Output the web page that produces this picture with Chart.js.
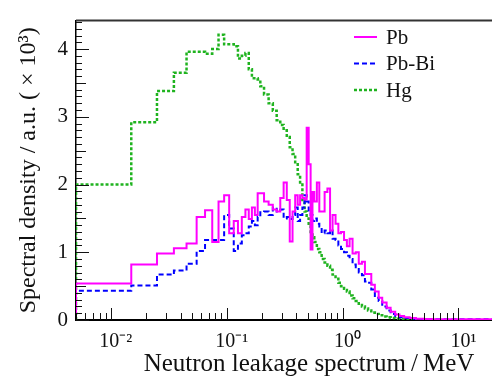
<!DOCTYPE html>
<html>
<head>
<meta charset="utf-8">
<script src="https://cdn.jsdelivr.net/npm/chart.js@4.4.0/dist/chart.umd.min.js"></script>
<style>
  html, body { margin: 0; padding: 0; background: #fff; }
  #wrap { width: 492px; height: 383px; }
</style>
</head>
<body>
<div id="wrap"><canvas id="spectrum"></canvas></div>
<script>
// bin edges in MeV (lower edge of each bin, last entry = upper edge of last bin)
var binEdges = [
  0.005, 0.015, 0.025, 0.035, 0.045, 0.055, 0.065, 0.075, 0.085, 0.095,
  0.105, 0.115, 0.125, 0.135, 0.145, 0.155, 0.165, 0.175, 0.185, 0.195,
  0.21, 0.23, 0.25, 0.27, 0.29, 0.31, 0.33, 0.35, 0.37, 0.39,
  0.41, 0.43, 0.45, 0.47, 0.49, 0.51, 0.53, 0.55, 0.57, 0.6,
  0.63, 0.66, 0.7, 0.74, 0.78, 0.82, 0.87, 0.92, 0.97, 1.03,
  1.09, 1.15, 1.22, 1.3, 1.38, 1.47, 1.56, 1.66, 1.77, 1.9,
  2.05, 2.2, 2.4, 2.6, 2.85, 3.1, 3.4, 3.8, 4.3, 5,
  6, 8, 11, 15, 20
];

// spectral density (x 10^3) per bin
var pbValues = [
  0.54, 0.82, 0.98, 1.06, 1.13, 1.52, 1.62, 1.15, 1.75, 1.84,
  1.28, 1.46, 1.28, 1.52, 1.63, 1.49, 1.66, 1.55, 1.87, 1.87,
  1.75, 1.70, 1.63, 1.60, 1.80, 2.03, 1.77, 1.16, 1.60, 1.84,
  1.70, 1.84, 1.80, 1.78, 2.84, 2.30, 1.04, 1.89, 1.75, 2.03,
  1.60, 1.60, 1.89, 1.94, 1.32, 1.55, 1.42, 1.28, 1.30, 1.18,
  1.09, 1.20, 0.98, 1.00, 0.83, 0.86, 0.68, 0.68, 0.52, 0.42,
  0.33, 0.26, 0.18, 0.12, 0.08, 0.06, 0.04, 0.03, 0.02, 0.015,
  0.01, 0.01, 0.01, 0.01
];
var pbBiValues = [
  0.43, 0.51, 0.67, 0.73, 0.83, 1.02, 1.18, 1.18, 1.18, 1.55,
  1.35, 1.02, 1.13, 1.25, 1.28, 1.38, 1.46, 1.40, 1.52, 1.59,
  1.60, 1.55, 1.66, 1.60, 1.63, 1.50, 1.52, 1.49, 1.55, 1.66,
  1.46, 1.55, 1.66, 1.84, 1.75, 1.60, 1.55, 1.46, 1.50, 1.42,
  1.38, 1.28, 1.32, 1.28, 1.32, 1.20, 1.18, 1.10, 1.05, 1.00,
  0.95, 0.90, 0.82, 0.78, 0.70, 0.66, 0.57, 0.55, 0.45, 0.33,
  0.28, 0.20, 0.14, 0.09, 0.06, 0.04, 0.03, 0.02, 0.015, 0.01,
  0.01, 0.01, 0.01, 0.01
];
var hgValues = [
  2.00, 2.92, 3.38, 3.65, 3.96, 3.96, 3.93, 4.00, 4.21, 4.07,
  4.07, 4.04, 3.86, 3.90, 3.94, 3.70, 3.57, 3.57, 3.55, 3.45,
  3.33, 3.20, 3.09, 2.95, 2.88, 2.80, 2.70, 2.55, 2.45, 2.30,
  2.15, 2.00, 1.75, 1.60, 1.50, 1.40, 1.30, 1.22, 1.15, 1.05,
  1.00, 0.90, 0.85, 0.80, 0.74, 0.67, 0.61, 0.55, 0.50, 0.46,
  0.42, 0.36, 0.32, 0.28, 0.24, 0.20, 0.17, 0.14, 0.11, 0.09,
  0.07, 0.05, 0.04, 0.03, 0.02, 0.015, 0.01, 0.005
];

var seriesNames = ['Pb', 'Pb-Bi', 'Hg'];
var xTickValues = [0.01, 0.1, 1, 10];
var xTickLabels = ['10\u207B\u00B2', '10\u207B\u00B9', '10\u2070', '10\u00B9'];
var yTickValues = [0, 1, 2, 3, 4];

var serif = "'Liberation Serif', 'Times New Roman', serif";

// histogram -> step points (starts from baseline like ROOT)
function toSteps(values) {
  var pts = [{ x: binEdges[0], y: 0 }];
  values.forEach(function(v, i) { pts.push({ x: binEdges[i], y: v }); });
  pts.push({ x: binEdges[values.length], y: values[values.length - 1] });
  return pts;
}

// inward ticks, top frame line and the legend box
var frameTicks = {
  id: 'frameTicks',
  afterDatasetsDraw: function(chart) {
    var ctx = chart.ctx, a = chart.chartArea;
    var x = chart.scales.x, y = chart.scales.y;
    ctx.save();
    ctx.strokeStyle = '#111';
    ctx.lineWidth = 1;
    for (var k = 0; k <= 44; k++) {
      var py = Math.round(y.getPixelForValue(k / 10)) + 0.5;
      var len = k % 10 === 0 ? 13 : (k % 5 === 0 ? 10 : 6);
      ctx.beginPath(); ctx.moveTo(a.left, py); ctx.lineTo(a.left + len, py); ctx.stroke();
    }
    for (var d = -3; d <= 1; d++) {
      for (var m = 1; m <= 9; m++) {
        var v = m * Math.pow(10, d);
        if (v < x.min || v > x.max) continue;
        var px = Math.round(x.getPixelForValue(v)) + 0.5;
        var l = m === 1 ? 12 : 7;
        ctx.beginPath(); ctx.moveTo(px, a.bottom); ctx.lineTo(px, a.bottom - l); ctx.stroke();
      }
    }
    ctx.strokeStyle = '#333';
    ctx.lineWidth = 2;
    ctx.beginPath(); ctx.moveTo(a.left, a.top); ctx.lineTo(a.right, a.top); ctx.stroke();

    // legend
    ctx.font = '21px ' + serif;
    ctx.textBaseline = 'middle';
    ctx.fillStyle = '#111';
    chart.data.datasets.forEach(function(ds, i) {
      var ly = 37 + i * 26.5;
      ctx.strokeStyle = ds.borderColor;
      ctx.lineWidth = ds.borderWidth;
      ctx.setLineDash(ds.borderDash || []);
      ctx.beginPath(); ctx.moveTo(354, ly); ctx.lineTo(377, ly); ctx.stroke();
      ctx.setLineDash([]);
      ctx.fillText(ds.label, 386, ly + 1);
    });
    ctx.restore();
  }
};

var ctx = document.getElementById('spectrum').getContext('2d');

// eslint-disable-next-line no-unused-vars
var chart = new Chart(ctx, {
  type: 'line',
  data: {
    datasets: [{
      label: seriesNames[0],
      data: toSteps(pbValues),
      borderColor: '#ff00ff',
      borderWidth: 2,
      stepped: 'before',
      pointRadius: 0
    },
    {
      label: seriesNames[1],
      data: toSteps(pbBiValues),
      borderColor: '#0000ff',
      borderWidth: 2,
      borderDash: [5, 3],
      stepped: 'before',
      pointRadius: 0
    },
    {
      label: seriesNames[2],
      data: toSteps(hgValues),
      borderColor: '#1fb31f',
      borderWidth: 2.5,
      borderDash: [3, 2],
      stepped: 'before',
      pointRadius: 0
    }]
  },
  options: {
    responsive: true,
    maintainAspectRatio: false,
    animation: false,
    layout: { padding: { top: 8, right: 0, left: 0, bottom: 0 } },
    plugins: { legend: { display: false }, tooltip: { enabled: false } },
    scales: {
      x: {
        type: 'logarithmic',
        min: 0.005,
        max: 19.5,
        grid: { display: false, drawTicks: false },
        border: { display: true, color: '#000', width: 2 },
        afterBuildTicks: function(s) { s.ticks = xTickValues.map(function(v) { return { value: v }; }); },
        afterFit: function(s) { s.height = 63; },
        ticks: {
          autoSkip: false,
          maxRotation: 0,
          padding: 10,
          color: '#111',
          font: { family: serif, size: 20 },
          callback: function(v) {
            var i = xTickValues.indexOf(v);
            // en space in front keeps the "10" roughly on the tick
            return i >= 0 ? '\u2002' + xTickLabels[i] : '';
          }
        },
        title: {
          display: true,
          // leading spaces push the title right, as in the ROOT original
          text: '\u2003\u2003Neutron leakage spectrum\u2009/\u2009MeV',
          color: '#111',
          font: { family: serif, size: 25 },
          padding: { top: 0, bottom: 4 }
        }
      },
      y: {
        min: 0,
        max: 4.42,
        grid: { display: false, drawTicks: false },
        border: { display: true, color: '#000', width: 1.5 },
        afterBuildTicks: function(s) { s.ticks = yTickValues.map(function(v) { return { value: v }; }); },
        afterFit: function(s) { s.width = 76; },
        ticks: {
          padding: 8,
          color: '#111',
          font: { family: serif, size: 21 }
        },
        title: {
          display: true,
          text: 'Spectral density / a.u. ( \u00D7 10\u00B3)',
          color: '#111',
          font: { family: serif, size: 24 },
          padding: { top: 14, bottom: 0 }
        }
      }
    }
  },
  plugins: [frameTicks]
});
</script>
</body>
</html>
